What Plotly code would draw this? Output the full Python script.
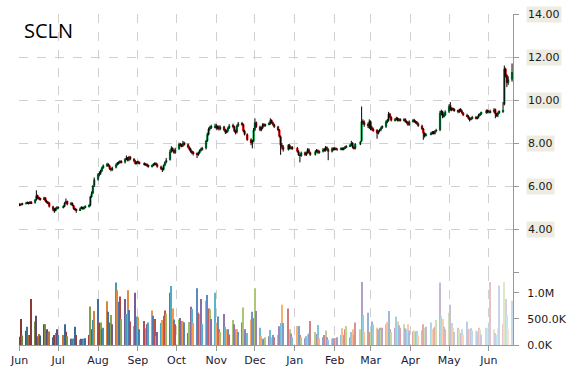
import pandas as pd
import plotly.graph_objects as go
from plotly.subplots import make_subplots

ticker = "SCLN"
holidays = ["2016-07-04", "2016-09-05", "2016-11-24", "2016-12-26", "2017-01-02",
            "2017-01-16", "2017-02-20", "2017-04-14", "2017-05-29"]
dates = pd.bdate_range("2016-06-01", "2017-06-19", freq="C", holidays=holidays)

open_ = [
    5.10, 5.16, 5.12, 5.17, 5.20, 5.23, 5.18, 5.26, 5.22, 5.35, 5.56, 5.46, 5.42, 5.38, 5.46, 5.31, 5.26, 5.22, 5.04, 4.92, 4.86, 4.94,
    4.98, 5.00, 5.06, 5.20, 5.30, 5.14, 5.20, 5.10, 4.96, 4.90, 4.86, 4.96, 5.00, 4.94, 5.00, 5.04, 5.10, 5.50, 5.66, 6.02,
    6.30, 6.56, 6.58, 6.70, 6.86, 6.94, 7.02, 6.94, 6.80, 6.74, 6.86, 7.00, 7.06, 7.10, 7.16, 7.10, 7.24, 7.32, 7.20, 7.36, 7.26, 7.14, 7.04,
    7.12, 7.10, 7.06, 6.98, 7.02, 6.96, 6.90, 6.96, 7.00, 7.06, 7.00, 6.90, 6.82, 6.76, 6.96, 7.10, 7.22, 7.60, 7.76, 7.66, 7.54,
    7.72, 7.96, 7.90, 7.86, 8.02, 7.94, 7.80, 7.72, 7.60, 7.56, 7.52, 7.44, 7.56, 7.66, 7.70, 7.76, 8.10, 8.40, 8.66, 8.72, 8.74,
    8.80, 8.70, 8.76, 8.64, 8.76, 8.60, 8.50, 8.56, 8.70, 8.82, 8.76, 8.56, 8.50, 8.80, 8.92, 8.86, 8.56, 8.40, 8.16, 7.98, 8.10,
    8.62, 8.96, 8.76, 8.60, 8.70, 8.86, 8.80, 8.86, 8.90, 9.06, 8.96, 8.86, 8.76, 8.60, 8.30, 7.90, 7.80, 7.70, 7.90, 7.76, 7.80,
    7.76, 7.60, 7.44, 7.40, 7.56, 7.44, 7.56, 7.70, 7.56, 7.46, 7.60, 7.66, 7.54, 7.60, 7.72, 7.64, 7.80, 7.70, 7.60, 7.76,
    7.70, 7.76, 7.70, 7.70, 7.76, 7.70, 7.76, 7.80, 7.86, 7.90, 8.00, 7.80, 7.74, 7.94, 8.10, 9.02, 8.96, 8.84, 8.70,
    9.00, 8.72, 8.64, 8.60, 8.44, 8.56, 8.60, 8.70, 8.76, 9.00, 9.05, 9.36, 9.20, 9.04, 9.10, 9.16, 9.04, 9.10, 9.04, 9.10, 9.00, 8.96, 8.84,
    9.00, 9.06, 9.00, 8.96, 8.90, 8.80, 8.66, 8.46, 8.34, 8.40, 8.46, 8.50, 8.44, 8.56, 8.60, 9.40, 9.46, 9.24, 9.30,
    9.46, 9.75, 9.55, 9.60, 9.56, 9.50, 9.45, 9.56, 9.50, 9.40, 9.30, 9.26, 9.15, 9.10, 9.14, 9.20, 9.14, 9.20, 9.30, 9.36, 9.40, 9.50,
    9.46, 9.44, 9.45, 9.56, 9.36, 9.30, 9.40, 9.46, 9.80, 11.45, 11.15, 10.80, 10.95,
]
high = [
    5.20, 5.20, 5.22, 5.26, 5.28, 5.26, 5.30, 5.30, 5.40, 5.80, 5.60, 5.50, 5.46, 5.50, 5.48, 5.36, 5.30, 5.25, 5.08, 4.98, 5.00, 5.06,
    5.06, 5.10, 5.25, 5.42, 5.32, 5.26, 5.24, 5.12, 5.00, 4.95, 5.00, 5.06, 5.04, 5.05, 5.10, 5.15, 5.55, 5.75, 6.05, 6.40,
    6.60, 6.68, 6.76, 6.90, 7.00, 7.08, 7.06, 6.98, 6.85, 6.90, 7.05, 7.12, 7.15, 7.20, 7.20, 7.30, 7.42, 7.35, 7.40, 7.40, 7.30, 7.20, 7.15,
    7.18, 7.14, 7.10, 7.06, 7.06, 7.00, 7.00, 7.06, 7.10, 7.10, 7.05, 6.95, 6.86, 7.00, 7.15, 7.30, 7.70, 7.85, 7.80, 7.70, 7.78,
    8.02, 8.00, 7.95, 8.10, 8.06, 7.98, 7.85, 7.78, 7.66, 7.62, 7.56, 7.60, 7.70, 7.78, 7.82, 8.15, 8.48, 8.72, 8.80, 8.85, 8.90,
    8.88, 8.82, 8.82, 8.82, 8.80, 8.66, 8.62, 8.76, 8.88, 8.90, 8.80, 8.62, 8.86, 8.98, 8.98, 8.90, 8.62, 8.45, 8.22, 8.15, 8.70,
    9.15, 9.00, 8.80, 8.76, 8.92, 8.92, 8.90, 8.98, 9.15, 9.10, 9.00, 8.90, 8.80, 8.65, 8.35, 8.00, 7.90, 7.95, 7.95, 7.86, 7.86,
    7.82, 7.66, 7.50, 7.60, 7.60, 7.60, 7.76, 7.75, 7.60, 7.66, 7.72, 7.70, 7.66, 7.76, 7.76, 7.86, 7.84, 7.76, 7.80, 7.80,
    7.80, 7.80, 7.76, 7.80, 7.80, 7.80, 7.86, 7.90, 7.95, 8.10, 8.04, 7.85, 8.00, 8.10, 9.70, 9.10, 9.05, 8.95, 9.10,
    9.05, 8.80, 8.72, 8.65, 8.60, 8.66, 8.76, 8.82, 9.05, 9.12, 9.45, 9.40, 9.25, 9.15, 9.22, 9.20, 9.16, 9.15, 9.15, 9.15, 9.05, 9.00, 9.05,
    9.12, 9.12, 9.05, 9.02, 8.95, 8.85, 8.70, 8.50, 8.46, 8.52, 8.56, 8.56, 8.60, 8.66, 9.50, 9.55, 9.50, 9.38, 9.52,
    9.80, 9.90, 9.66, 9.65, 9.62, 9.55, 9.60, 9.62, 9.55, 9.44, 9.36, 9.30, 9.20, 9.20, 9.26, 9.26, 9.24, 9.36, 9.40, 9.46, 9.56, 9.56,
    9.52, 9.55, 9.62, 9.60, 9.40, 9.46, 9.52, 9.90, 11.60, 11.50, 11.20, 11.10, 11.70,
]
low = [
    5.06, 5.08, 5.10, 5.14, 5.16, 5.14, 5.16, 5.16, 5.18, 5.32, 5.40, 5.34, 5.32, 5.35, 5.26, 5.20, 5.15, 5.00, 4.82, 4.75, 4.82, 4.90,
    4.92, 4.96, 5.02, 5.16, 5.10, 5.10, 5.06, 4.90, 4.85, 4.75, 4.84, 4.92, 4.90, 4.90, 4.96, 5.00, 5.06, 5.45, 5.62, 5.95,
    6.25, 6.45, 6.52, 6.65, 6.80, 6.88, 6.90, 6.75, 6.68, 6.70, 6.82, 6.95, 7.00, 7.05, 7.05, 7.05, 7.20, 7.15, 7.15, 7.20, 7.10, 7.00, 7.00,
    7.04, 7.00, 6.95, 6.94, 6.90, 6.85, 6.86, 6.92, 6.96, 6.95, 6.85, 6.75, 6.65, 6.72, 6.92, 7.05, 7.18, 7.55, 7.60, 7.50, 7.50,
    7.68, 7.84, 7.80, 7.82, 7.88, 7.75, 7.65, 7.55, 7.48, 7.42, 7.30, 7.40, 7.50, 7.60, 7.65, 7.70, 8.05, 8.35, 8.58, 8.65, 8.68,
    8.62, 8.62, 8.58, 8.60, 8.55, 8.42, 8.45, 8.50, 8.65, 8.68, 8.50, 8.40, 8.45, 8.75, 8.80, 8.50, 8.35, 8.10, 7.90, 7.75, 8.05,
    8.55, 8.70, 8.55, 8.55, 8.65, 8.74, 8.75, 8.82, 8.85, 8.90, 8.80, 8.70, 8.55, 8.25, 7.45, 7.70, 7.60, 7.65, 7.70, 7.70, 7.68,
    7.55, 7.40, 7.10, 7.36, 7.40, 7.40, 7.50, 7.50, 7.40, 7.42, 7.55, 7.50, 7.50, 7.56, 7.60, 7.60, 7.65, 7.20, 7.56, 7.64,
    7.66, 7.66, 7.64, 7.66, 7.66, 7.66, 7.72, 7.76, 7.82, 7.86, 7.75, 7.70, 7.70, 7.90, 8.05, 8.85, 8.75, 8.70, 8.65,
    8.60, 8.58, 8.52, 8.20, 8.40, 8.50, 8.55, 8.65, 8.70, 8.92, 9.00, 9.15, 9.00, 9.00, 9.05, 9.00, 9.00, 9.00, 9.00, 8.95, 8.90, 8.80, 8.80,
    8.95, 8.95, 8.90, 8.85, 8.75, 8.60, 8.15, 8.25, 8.30, 8.36, 8.40, 8.40, 8.40, 8.50, 8.55, 9.30, 9.15, 9.18, 9.25,
    9.40, 9.50, 9.48, 9.50, 9.45, 9.38, 9.40, 9.45, 9.35, 9.25, 9.20, 9.10, 9.00, 9.05, 9.10, 9.10, 9.10, 9.15, 9.25, 9.30, 9.36, 9.38,
    9.38, 9.38, 9.40, 9.15, 9.22, 9.20, 9.35, 9.40, 9.75, 11.05, 10.60, 10.70, 10.85,
]
close = [
    5.15, 5.12, 5.18, 5.20, 5.22, 5.18, 5.25, 5.20, 5.35, 5.55, 5.45, 5.40, 5.38, 5.45, 5.30, 5.25, 5.20, 5.05, 4.90, 4.85, 4.95, 5.00,
    5.00, 5.05, 5.20, 5.30, 5.15, 5.20, 5.10, 4.95, 4.90, 4.85, 4.95, 5.00, 4.95, 5.00, 5.05, 5.10, 5.50, 5.65, 6.00, 6.30,
    6.55, 6.60, 6.70, 6.85, 6.95, 7.00, 6.95, 6.80, 6.75, 6.85, 7.00, 7.05, 7.10, 7.15, 7.10, 7.25, 7.30, 7.20, 7.35, 7.25, 7.15, 7.05, 7.10,
    7.10, 7.05, 7.00, 7.00, 6.95, 6.90, 6.95, 7.00, 7.05, 7.00, 6.90, 6.80, 6.75, 6.95, 7.10, 7.20, 7.60, 7.75, 7.65, 7.55, 7.70,
    7.95, 7.90, 7.85, 8.00, 7.95, 7.80, 7.70, 7.60, 7.55, 7.50, 7.45, 7.55, 7.65, 7.70, 7.75, 8.10, 8.40, 8.65, 8.70, 8.75, 8.80,
    8.70, 8.75, 8.65, 8.75, 8.60, 8.50, 8.55, 8.70, 8.80, 8.75, 8.55, 8.50, 8.80, 8.90, 8.85, 8.55, 8.40, 8.15, 8.00, 8.10, 8.60,
    8.95, 8.75, 8.60, 8.70, 8.85, 8.80, 8.85, 8.90, 9.05, 8.95, 8.85, 8.75, 8.60, 8.30, 7.90, 7.80, 7.70, 7.90, 7.75, 7.80, 7.75,
    7.60, 7.45, 7.40, 7.55, 7.45, 7.55, 7.70, 7.55, 7.45, 7.60, 7.65, 7.55, 7.60, 7.70, 7.65, 7.80, 7.70, 7.60, 7.75, 7.70,
    7.75, 7.70, 7.70, 7.75, 7.70, 7.75, 7.80, 7.85, 7.90, 8.00, 7.80, 7.75, 7.95, 8.05, 9.00, 8.95, 8.85, 8.80, 9.00,
    8.70, 8.65, 8.60, 8.45, 8.55, 8.60, 8.70, 8.75, 9.00, 9.05, 9.35, 9.20, 9.05, 9.10, 9.15, 9.05, 9.10, 9.05, 9.10, 9.00, 8.95, 8.85, 9.00,
    9.05, 9.00, 8.95, 8.90, 8.80, 8.65, 8.45, 8.35, 8.40, 8.45, 8.50, 8.45, 8.55, 8.60, 9.40, 9.45, 9.25, 9.30, 9.45,
    9.70, 9.55, 9.60, 9.55, 9.50, 9.45, 9.55, 9.50, 9.40, 9.30, 9.25, 9.15, 9.10, 9.15, 9.20, 9.15, 9.20, 9.30, 9.35, 9.40, 9.50, 9.45,
    9.45, 9.45, 9.55, 9.35, 9.30, 9.40, 9.45, 9.50, 11.45, 11.15, 10.80, 10.95, 11.30,
]
volume_k = [
    160, 500, 180, 275, 350, 190, 190, 880, 450, 560, 170, 210, 180, 400, 400, 300, 230, 260, 150, 190, 230, 300,
    190, 190, 400, 255, 170, 120, 120, 130, 350, 190, 100, 120, 120, 100, 130, 190, 740, 300, 480, 650,
    880, 430, 430, 300, 330, 840, 640, 430, 575, 400, 1200, 1050, 830, 930, 500, 880, 595, 1050, 670, 450, 365, 1000, 545,
    530, 300, 460, 320, 400, 430, 660, 560, 500, 170, 250, 420, 480, 560, 660, 600, 1000, 1130, 700, 490, 400,
    490, 520, 460, 450, 430, 230, 440, 735, 690, 420, 1090, 620, 595, 880, 400, 850, 960, 700, 680, 500, 1000,
    430, 545, 300, 250, 595, 350, 300, 300, 200, 480, 400, 300, 300, 250, 430, 720, 300, 230, 490, 640, 520,
    1090, 650, 330, 170, 120, 100, 150, 170, 290, 150, 190, 150, 190, 360, 420, 770, 420, 700, 300, 220, 150,
    365, 365, 190, 150, 130, 170, 200, 220, 460, 250, 210, 385, 130, 150, 190, 280, 150, 100, 120, 130,
    130, 120, 150, 190, 320, 190, 300, 365, 150, 250, 300, 190, 430, 300, 1210, 575, 250, 620, 250,
    250, 450, 400, 330, 300, 330, 290, 330, 400, 440, 650, 300, 250, 330, 545, 450, 380, 330, 400, 320, 300, 400, 280,
    260, 280, 260, 270, 180, 280, 400, 330, 350, 430, 300, 330, 350, 480, 1200, 560, 500, 350, 300,
    620, 770, 420, 330, 250, 330, 300, 230, 300, 200, 450, 300, 310, 320, 280, 280, 260, 330, 300, 200, 330, 330,
    430, 1210, 300, 230, 190, 320, 1140, 400, 1210, 880, 575, 300, 850,
]
price_ticks = [2, 4, 6, 8, 10, 12, 14]
price_labels = ["", "4.00", "6.00", "8.00", "10.00", "12.00", "14.00"]
vol_ticks = [0, 500000, 1000000]
vol_labels = ["0.0K", "500.0K", "1.0M"]

n = len(dates)
for name, arr in [("open", open_), ("high", high), ("low", low), ("close", close), ("volume", volume_k)]:
    if len(arr) != n:
        raise ValueError(f"{name} has {len(arr)} values, expected {n}")

# ---------- styling helpers ----------
palette = ["#4F81BD", "#C0504D", "#9BBB59", "#8064A2", "#4BACC6", "#F79646"]


def shade(hex_color, f):
    r, g, b = int(hex_color[1:3], 16), int(hex_color[3:5], 16), int(hex_color[5:7], 16)
    if f < 0:
        r, g, b = [int(c * (1 + f)) for c in (r, g, b)]
    else:
        r, g, b = [int(c + (255 - c) * f) for c in (r, g, b)]
    return f"rgb({r},{g},{b})"


vol_colors = [shade(palette[i % 6], -0.3 + 1.0 * i / (n - 1)) for i in range(n)]

DAY = 86400000
up_idx = [i for i in range(n) if close[i] >= open_[i]]
dn_idx = [i for i in range(n) if close[i] < open_[i]]

fig = make_subplots(rows=2, cols=1, shared_xaxes=True, vertical_spacing=0,
                    row_heights=[0.7795, 0.2205])

# wicks (drawn first, bodies on top)
wx, wy = [], []
for i in range(n):
    wx += [dates[i], dates[i], None]
    wy += [low[i], high[i], None]
fig.add_trace(go.Scatter(x=wx, y=wy, mode="lines", line=dict(color="black", width=1),
                         showlegend=False, hoverinfo="skip"), row=1, col=1)

for idx, col in [(up_idx, "#00B050"), (dn_idx, "#FF0000")]:
    fig.add_trace(go.Bar(
        x=[dates[i] for i in idx],
        y=[abs(close[i] - open_[i]) for i in idx],
        base=[min(open_[i], close[i]) for i in idx],
        width=1.8 * DAY, marker=dict(color=col, line=dict(width=0)),
        showlegend=False, hoverinfo="skip"), row=1, col=1)

fig.add_trace(go.Bar(x=dates, y=[v * 1000 for v in volume_k], width=0.9 * DAY,
                     marker=dict(color=vol_colors, line=dict(width=0)),
                     showlegend=False, hoverinfo="skip"), row=2, col=1)

grid = dict(showgrid=True, gridcolor="#D0D0D0", griddash="dash", gridwidth=1)
xr = ["2016-05-31 12:00", "2017-06-19 18:00"]
fig.update_xaxes(type="date", range=xr, dtick="M1", tick0="2016-06-01", zeroline=False,
                 automargin=False, **grid)
fig.update_xaxes(showticklabels=False, ticks="", showline=False, row=1, col=1)
fig.update_xaxes(tickformat="%b", ticks="outside", ticklen=5, tickcolor="#999999",
                 showline=True, linecolor="#999999", linewidth=1,
                 tickfont=dict(family="DejaVu Sans", size=11, color="#1a1a3a"),
                 row=2, col=1)

fig.update_yaxes(side="right", range=[2, 14], tickvals=price_ticks, showticklabels=False,
                 ticks="outside", ticklen=5, tickcolor="#999999", showline=True,
                 linecolor="#999999", zeroline=False, automargin=False, **grid, row=1, col=1)
fig.update_yaxes(side="right", range=[0, 1400000], tickvals=vol_ticks, ticktext=vol_labels,
                 ticks="outside", ticklen=5, tickcolor="#999999", showline=True,
                 linecolor="#999999", showgrid=False, zeroline=False, ticklabelstandoff=6,
                 automargin=False,
                 tickfont=dict(family="DejaVu Sans", size=11, color="#1a1a1a"),
                 row=2, col=1)

annotations = []
for v, t in zip(price_ticks, price_labels):
    if t:
        annotations.append(dict(x=1, xref="paper", xanchor="left", xshift=13, y=v, yref="y",
                                text=t, showarrow=False, bgcolor="#EEECE1", borderpad=1,
                                font=dict(family="DejaVu Sans", size=11, color="#1a1a1a")))
annotations.append(dict(x=0.0, xref="paper", xanchor="left", xshift=3, y=0.949, yref="paper",
                        yanchor="middle", text=ticker, showarrow=False,
                        font=dict(family="Open Sans", size=20, color="black")))

fig.update_layout(width=570, height=370,
                  margin=dict(l=19, r=57, t=14, b=25, autoexpand=False),
                  paper_bgcolor="white", plot_bgcolor="white", barmode="overlay",
                  annotations=annotations, showlegend=False)

fig.write_html("out.html", config={"displayModeBar": False},
               post_script="document.body.style.margin='0';")
